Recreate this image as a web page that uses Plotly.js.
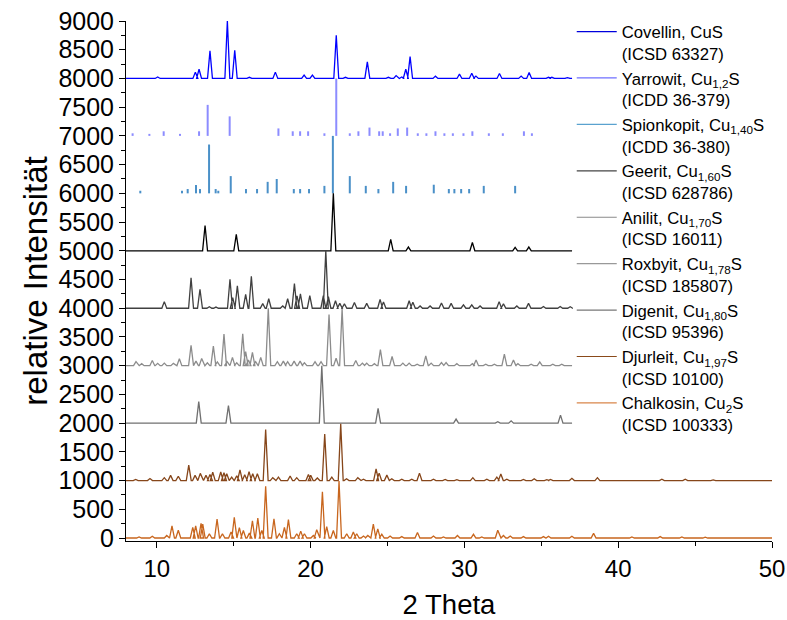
<!DOCTYPE html>
<html>
<head>
<meta charset="utf-8">
<script src="https://cdn.plot.ly/plotly-3.0.1.min.js"></script>
<style>html,body{margin:0;padding:0;background:#fff;}#chart{width:787px;height:620px;}</style>
</head>
<body>
<div id="chart"></div>
<script>
// ---- data (peak positions in 2θ, peak heights in counts) ----
const names = [
  "Covellin, CuS<br>(ICSD 63327)",
  "Yarrowit, Cu<sub>1,2</sub>S<br>(ICDD 36-379)",
  "Spionkopit, Cu<sub>1,40</sub>S<br>(ICDD 36-380)",
  "Geerit, Cu<sub>1,60</sub>S<br>(ICSD 628786)",
  "Anilit, Cu<sub>1,70</sub>S<br>(ICSD 16011)",
  "Roxbyit, Cu<sub>1,78</sub>S<br>(ICSD 185807)",
  "Digenit, Cu<sub>1,80</sub>S<br>(ICSD 95396)",
  "Djurleit, Cu<sub>1,97</sub>S<br>(ICSD 10100)",
  "Chalkosin, Cu<sub>2</sub>S<br>(ICSD 100333)"
];
const offsets = [8000, 7000, 6000, 5000, 4000, 3000, 2000, 1000, 0];
const xEnds = [37, 37, 37, 37, 37, 37, 37, 50, 50];

const covellinPos = [10.06,12.51,12.75,13.46,14.59,15.07,16.02,17.71,19.58,20.12,21.67,22.27,23.69,25.06,25.56,25.93,26.19,26.47,28.12,29.68,30.48,30.75,32.28,33.69,34.21,35.47,35.69,36.70];
const covellinInt = [25,110,160,480,1000,490,20,110,60,60,750,20,290,20,50,25,160,380,40,75,90,40,85,40,105,20,20,15];

const yarrowitPos = [8.43,9.52,10.45,11.51,12.75,13.31,14.74,17.91,18.84,19.32,19.84,20.90,21.67,22.55,23.11,23.83,24.46,24.69,25.17,25.67,26.28,26.97,27.53,28.12,28.70,29.25,29.94,30.52,31.59,32.50,33.87,34.39];
const yarrowitInt = [45,35,80,35,80,540,340,130,80,80,80,45,1000,45,80,145,80,80,45,130,145,45,45,80,45,45,45,80,45,45,80,45];

const spionkopitPos = [8.93,11.64,12.01,12.55,12.81,13.40,13.83,14.00,14.81,15.80,16.52,17.21,17.80,18.91,19.32,19.90,20.90,21.45,22.55,23.59,24.41,25.37,26.21,28.01,28.99,29.35,29.79,30.31,31.26,33.30];
const spionkopitInt = [45,45,75,145,75,850,75,45,300,75,75,200,250,75,75,75,130,1000,300,130,75,200,130,150,75,75,75,75,130,130];

const geeritPos = [13.14,15.17,21.48,25.21,26.36,30.52,33.30,34.19];
const geeritInt = [440,285,1000,200,65,145,60,65];

const anilitPos = [10.49,12.23,12.81,13.42,13.85,14.76,14.94,15.24,15.78,16.15,16.89,17.28,18.19,18.51,18.95,19.12,19.34,19.95,20.83,20.99,21.16,21.62,21.90,22.20,22.85,23.65,24.52,24.74,26.41,26.65,27.12,27.77,28.51,29.14,29.94,30.48,31.02,32.26,32.54,33.41,34.17,35.14,36.23,36.88];
const anilitInt = [115,530,330,25,20,505,185,390,240,555,80,165,40,165,430,215,250,220,220,1000,200,130,85,75,100,85,155,110,130,105,40,40,90,85,60,60,40,115,75,40,85,30,30,25];

const roxbyitPos = [8.65,9.02,9.71,10.06,10.49,11.08,11.47,12.23,12.55,12.92,13.29,13.68,13.94,14.37,14.57,14.92,15.20,15.59,15.78,15.96,16.22,16.43,16.76,17.25,17.84,18.23,18.51,18.93,19.32,19.60,20.29,20.68,21.20,21.66,22.05,22.94,23.37,23.65,24.15,24.54,25.30,26.00,26.41,26.93,27.49,27.84,28.51,28.81,29.51,30.52,30.76,31.39,31.95,32.60,33.19,33.48,34.34,34.90,35.75,36.33];
const roxbyitInt = [70,35,90,40,45,40,120,355,80,125,50,340,65,550,70,145,50,555,245,100,230,70,145,1000,70,80,70,80,80,50,70,70,890,130,990,90,45,45,35,280,160,45,45,25,170,45,55,55,35,35,100,25,25,200,100,35,25,65,25,25];

const digenitPos = [12.73,14.66,20.73,24.39,29.46,32.17,33.04,36.25];
const digenitInt = [375,305,1000,255,70,25,40,140];

const djurleitPos = [8.63,9.56,10.49,10.90,11.40,12.08,12.49,12.83,13.20,13.46,13.64,14.16,14.37,14.55,14.87,15.20,15.41,15.72,16.00,16.24,16.54,17.08,17.54,17.91,18.67,19.10,19.86,20.01,20.44,20.92,21.38,21.96,22.34,23.07,23.44,24.26,24.46,24.96,25.28,25.93,26.58,27.08,27.99,28.75,29.51,30.55,31.46,32.11,32.37,32.76,33.84,34.54,35.36,35.60,36.99,38.65,42.84,44.36,46.18];
const djurleitInt = [20,35,50,90,75,270,90,125,90,105,145,150,135,120,60,85,185,100,155,120,120,890,50,60,80,50,105,90,45,810,60,990,30,50,25,205,130,95,30,25,25,130,25,20,15,50,25,60,115,25,20,30,15,20,40,50,25,25,10];

const chalkosinPos = [8.85,9.71,10.65,10.99,11.40,12.34,12.53,12.88,12.99,13.42,13.92,14.27,14.83,15.04,15.37,15.63,16.02,16.22,16.57,16.83,17.08,17.62,17.97,18.30,18.56,19.10,19.36,19.60,20.18,20.40,20.77,21.05,21.48,21.85,22.35,22.78,23.00,23.44,23.72,24.08,24.37,24.63,25.17,25.93,26.95,27.99,28.64,29.55,30.59,31.13,32.17,32.54,32.98,33.84,35.14,35.47,36.99,38.40,40.89,42.73,44.14,45.66];
const chalkosinInt = [20,30,45,210,135,185,210,255,240,75,330,75,105,360,180,130,85,300,345,130,900,335,75,185,320,75,120,75,45,145,805,200,130,990,75,105,75,35,45,240,160,65,35,25,95,35,20,45,65,20,135,45,35,25,25,30,30,80,20,25,20,15];

const colors = ["#0000ff","#8c8cff","#4a90c8","#000000","#404040","#8c8c8c","#707070","#86461a","#c8661e"];
const legendColors = ["#0000dd","#6f6fff","#5aa2cf","#444444","#8a8a8a","#999999","#777777","#8a4a1a","#d9864a"];

const peakLists = [
  [covellinPos, covellinInt],
  [yarrowitPos, yarrowitInt],
  [spionkopitPos, spionkopitInt],
  [geeritPos, geeritInt],
  [anilitPos, anilitInt],
  [roxbyitPos, roxbyitInt],
  [digenitPos, digenitInt],
  [djurleitPos, djurleitInt],
  [chalkosinPos, chalkosinInt]
];
const isStick = [false, true, true, false, false, false, false, false, false];

// ---- build traces ----
const halfW = 0.16;
const traces = [];
peakLists.forEach(([pos, inten], i) => {
  const base = offsets[i];
  const xs = [], ys = [];
  if (isStick[i]) {
    pos.forEach((p, k) => { xs.push(p, p, null); ys.push(base, base + inten[k], null); });
  } else {
    xs.push(8); ys.push(base);
    pos.forEach((p, k) => {
      xs.push(p - halfW, p, p + halfW);
      ys.push(base, base + inten[k], base);
    });
    xs.push(xEnds[i]); ys.push(base);
  }
  traces.push({
    x: xs, y: ys, type: 'scatter', mode: 'lines', name: names[i],
    connectgaps: false, showlegend: false,
    line: {color: colors[i], width: isStick[i] ? 2 : 1.3},
    hoverinfo: 'skip'
  });
});
// legend-only entries (thin lines like the reference legend)
names.forEach((n, i) => {
  traces.push({
    x: [null], y: [null], type: 'scatter', mode: 'lines', name: n,
    showlegend: true, line: {color: legendColors[i], width: 1.2}, hoverinfo: 'skip'
  });
});

const layout = {
  width: 787, height: 620,
  margin: {l: 126, r: 15, t: 21, b: 79},
  paper_bgcolor: '#ffffff', plot_bgcolor: '#ffffff',
  font: {family: 'Liberation Sans, Arial, sans-serif', color: '#000'},
  showlegend: true,
  legend: {
    x: 0.69, xanchor: 'left', y: 0.19, yanchor: 'bottom',
    bgcolor: 'rgba(0,0,0,0)', borderwidth: 0,
    font: {size: 16.7, color: '#000'},
    valign: 'top', itemwidth: 40, tracegroupgap: 0
  },
  xaxis: {
    range: [8, 50], showgrid: false, zeroline: false,
    showline: true, linecolor: '#000', linewidth: 1,
    ticks: 'outside', ticklen: 6, tickcolor: '#000', dtick: 10, tick0: 0,
    minor: {dtick: 5, ticks: 'outside', ticklen: 4, tickcolor: '#000', showgrid: false},
    tickfont: {size: 24},
    title: {text: '2 Theta', font: {size: 27.5}, standoff: 16}
  },
  yaxis: {
    range: [-52, 9000], showgrid: false, zeroline: false,
    showline: true, linecolor: '#000', linewidth: 1,
    ticks: 'outside', ticklen: 6, tickcolor: '#000', dtick: 500, tick0: 0,
    minor: {dtick: 250, ticks: 'outside', ticklen: 4, tickcolor: '#000', showgrid: false},
    tickfont: {size: 25},
    title: {text: 'relative Intensität', font: {size: 33}, standoff: 0}
  }
};

Plotly.newPlot('chart', traces, layout, {displayModeBar: false, staticPlot: true});
</script>
</body>
</html>
